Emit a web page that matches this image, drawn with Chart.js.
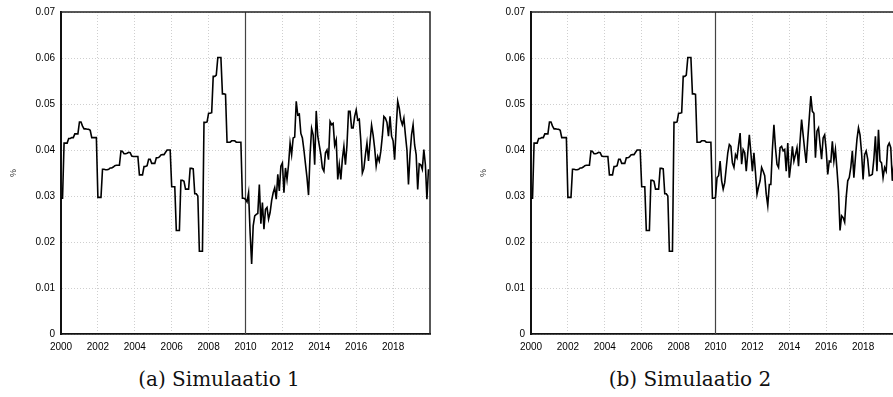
<!DOCTYPE html>
<html>
<head>
<meta charset="utf-8">
<script src="https://cdn.jsdelivr.net/npm/chart.js@4.4.0/dist/chart.umd.min.js"></script>
<style>
html, body { margin: 0; padding: 0; overflow: hidden; background: #fff; }
body { width: 893px; height: 397px; position: relative; }
.kuva { position: absolute; top: 0; }
.kuvateksti { position: absolute; top: 369px; width: 438px; text-align: center;
  font-family: "DejaVu Serif", serif; font-size: 20px; line-height: 20px; color: #111; white-space: nowrap; }
</style>
</head>
<body>
<canvas id="graf1" class="kuva" width="440" height="356" style="left:0px"></canvas>
<canvas id="graf2" class="kuva" width="440" height="356" style="left:470px"></canvas>
<div class="kuvateksti" style="left:0px">(a) Simulaatio 1</div>
<div class="kuvateksti" style="left:471px">(b) Simulaatio 2</div>
<script>
// kuukausittaiset arvot 2000-01 ... 2019-12
let alkuvuosi = 2000
let rajavuosi = 2010

// yhteinen osa 2000-2009 (molemmat simulaatiot)
let historia = [
  0.0295,0.0295,0.0415,0.0415,0.0415,0.0425,0.0425,0.0427,0.0427,0.0435,
  0.0435,0.0435,0.0461,0.0461,0.0452,0.0446,0.0446,0.0445,0.0445,0.0443,
  0.0427,0.0427,0.0427,0.0427,0.0297,0.0297,0.0297,0.0358,0.0358,0.0357,
  0.0357,0.0358,0.0361,0.0361,0.0363,0.0366,0.0367,0.0367,0.0367,0.0398,
  0.0397,0.0392,0.0392,0.0393,0.0395,0.0394,0.0387,0.0386,0.0386,0.0386,
  0.0386,0.0346,0.0346,0.0346,0.0364,0.0364,0.0366,0.0380,0.0380,0.0371,
  0.0371,0.0371,0.0383,0.0383,0.0385,0.0389,0.0390,0.0390,0.0395,0.0400,
  0.0400,0.0400,0.0320,0.0320,0.0320,0.0225,0.0225,0.0225,0.0334,0.0334,
  0.0332,0.0315,0.0315,0.0315,0.0360,0.0360,0.0359,0.0305,0.0305,0.0300,
  0.0180,0.0180,0.0180,0.0460,0.0460,0.0461,0.0480,0.0480,0.0481,0.0560,
  0.0560,0.0563,0.0601,0.0601,0.0601,0.0522,0.0522,0.0521,0.0417,0.0417,
  0.0417,0.0420,0.0420,0.0420,0.0417,0.0417,0.0417,0.0417,0.0295,0.0295
]

// simulaatio 1, 2010-2019
let simulaatio1 = [
  0.0293,0.0287,0.0307,0.0220,0.0152,0.0235,0.0257,0.0260,0.0262,0.0325,
  0.0240,0.0286,0.0228,0.0271,0.0275,0.0250,0.0264,0.0290,0.0307,0.0318,
  0.0293,0.0347,0.0311,0.0365,0.0372,0.0307,0.0361,0.0336,0.0368,0.0415,
  0.0390,0.0426,0.0428,0.0506,0.0476,0.0478,0.0436,0.0426,0.0400,0.0370,
  0.0340,0.0302,0.0390,0.0447,0.0433,0.0368,0.0485,0.0430,0.0410,0.0390,
  0.0361,0.0354,0.0394,0.0400,0.0379,0.0462,0.0455,0.0458,0.0410,0.0422,
  0.0336,0.0368,0.0336,0.0380,0.0408,0.0368,0.0411,0.0484,0.0484,0.0448,
  0.0448,0.0473,0.0487,0.0465,0.0467,0.0420,0.0350,0.0360,0.0390,0.0415,
  0.0376,0.0418,0.0454,0.0433,0.0404,0.0365,0.0386,0.0376,0.0397,0.0430,
  0.0473,0.0469,0.0460,0.0430,0.0473,0.0430,0.0420,0.0379,0.0448,0.0506,
  0.0491,0.0466,0.0455,0.0469,0.0433,0.0400,0.0325,0.0390,0.0433,0.0455,
  0.0411,0.0390,0.0314,0.0370,0.0368,0.0358,0.0401,0.0368,0.0293,0.0358
]

// simulaatio 2, 2010-2019
let simulaatio2 = [
  0.0297,0.0340,0.0344,0.0376,0.0333,0.0315,0.0329,0.0362,0.0394,0.0412,
  0.0408,0.0372,0.0362,0.0390,0.0383,0.0410,0.0437,0.0369,0.0401,0.0394,
  0.0354,0.0394,0.0433,0.0394,0.0354,0.0394,0.0351,0.0304,0.0320,0.0333,
  0.0362,0.0354,0.0344,0.0304,0.0279,0.0325,0.0325,0.0401,0.0455,0.0405,
  0.0369,0.0362,0.0405,0.0408,0.0398,0.0401,0.0354,0.0415,0.0340,0.0369,
  0.0408,0.0376,0.0390,0.0405,0.0365,0.0420,0.0466,0.0433,0.0400,0.0372,
  0.0423,0.0470,0.0517,0.0484,0.0480,0.0383,0.0441,0.0448,0.0412,0.0380,
  0.0426,0.0433,0.0400,0.0347,0.0376,0.0374,0.0419,0.0376,0.0401,0.0358,
  0.0311,0.0225,0.0257,0.0253,0.0243,0.0297,0.0333,0.0340,0.0362,0.0398,
  0.0340,0.0383,0.0423,0.0448,0.0433,0.0394,0.0336,0.0390,0.0398,0.0380,
  0.0344,0.0345,0.0347,0.0380,0.0430,0.0354,0.0444,0.0376,0.0372,0.0340,
  0.0362,0.0354,0.0408,0.0415,0.0405,0.0333,0.0370,0.0390,0.0360,0.0380
]

let xTikit = [2000, 2002, 2004, 2006, 2008, 2010, 2012, 2014, 2016, 2018]
let yTikit = [0, 0.01, 0.02, 0.03, 0.04, 0.05, 0.06, 0.07]

Chart.defaults.font.family = '"Liberation Sans", Arial, sans-serif'
Chart.defaults.font.size = 10
Chart.defaults.color = '#000'

// ylä- ja oikea reuna
const kehys = {
  id: 'kehys',
  afterDraw(chart) {
    const { ctx, chartArea: a } = chart
    ctx.save()
    ctx.strokeStyle = '#222'
    ctx.lineWidth = 1.5
    ctx.beginPath()
    ctx.moveTo(a.left, a.top)
    ctx.lineTo(a.right, a.top)
    ctx.lineTo(a.right, a.bottom)
    ctx.stroke()
    ctx.restore()
  }
}

function piirra(id, loppu) {
  let sarja = historia.concat(loppu)
  let pisteet = sarja.map((v, i) => ({ x: alkuvuosi + i / 12, y: v }))

  return new Chart(document.getElementById(id), {
    type: 'line',
    data: {
      datasets: [
        { data: pisteet, borderColor: '#000', borderWidth: 1.6, pointRadius: 0, tension: 0 },
        { data: [{ x: rajavuosi, y: yTikit[0] }, { x: rajavuosi, y: yTikit[yTikit.length - 1] }],
          borderColor: '#444', borderWidth: 1.2, pointRadius: 0 }
      ]
    },
    options: {
      responsive: false,
      animation: false,
      devicePixelRatio: 1,
      layout: { padding: { top: 10, right: 10, left: 0, bottom: 0 } },
      plugins: { legend: { display: false }, tooltip: { enabled: false } },
      scales: {
        x: {
          type: 'linear', min: 2000, max: 2020,
          afterBuildTicks: s => { s.ticks = xTikit.map(v => ({ value: v })) },
          afterFit: s => { s.height = 22 },
          ticks: { padding: 7, maxRotation: 0, autoSkip: false, callback: v => String(v) },
          grid: { color: '#cfcfcf', lineWidth: 1, drawTicks: false },
          border: { display: true, color: '#111', width: 1.8, dash: [1, 2] }
        },
        y: {
          min: 0, max: 0.07,
          afterBuildTicks: s => { s.ticks = yTikit.map(v => ({ value: v })) },
          afterFit: s => { s.width = 61 },
          ticks: { padding: 6, callback: v => String(v) },
          grid: { color: '#cfcfcf', lineWidth: 1, drawTicks: false },
          border: { display: true, color: '#111', width: 2, dash: [1, 2] },
          title: { display: true, text: '%', font: { size: 9 }, color: '#333', padding: { top: 8, bottom: 0 } }
        }
      }
    },
    plugins: [kehys]
  })
}

piirra('graf1', simulaatio1)
piirra('graf2', simulaatio2)
</script>
</body>
</html>
